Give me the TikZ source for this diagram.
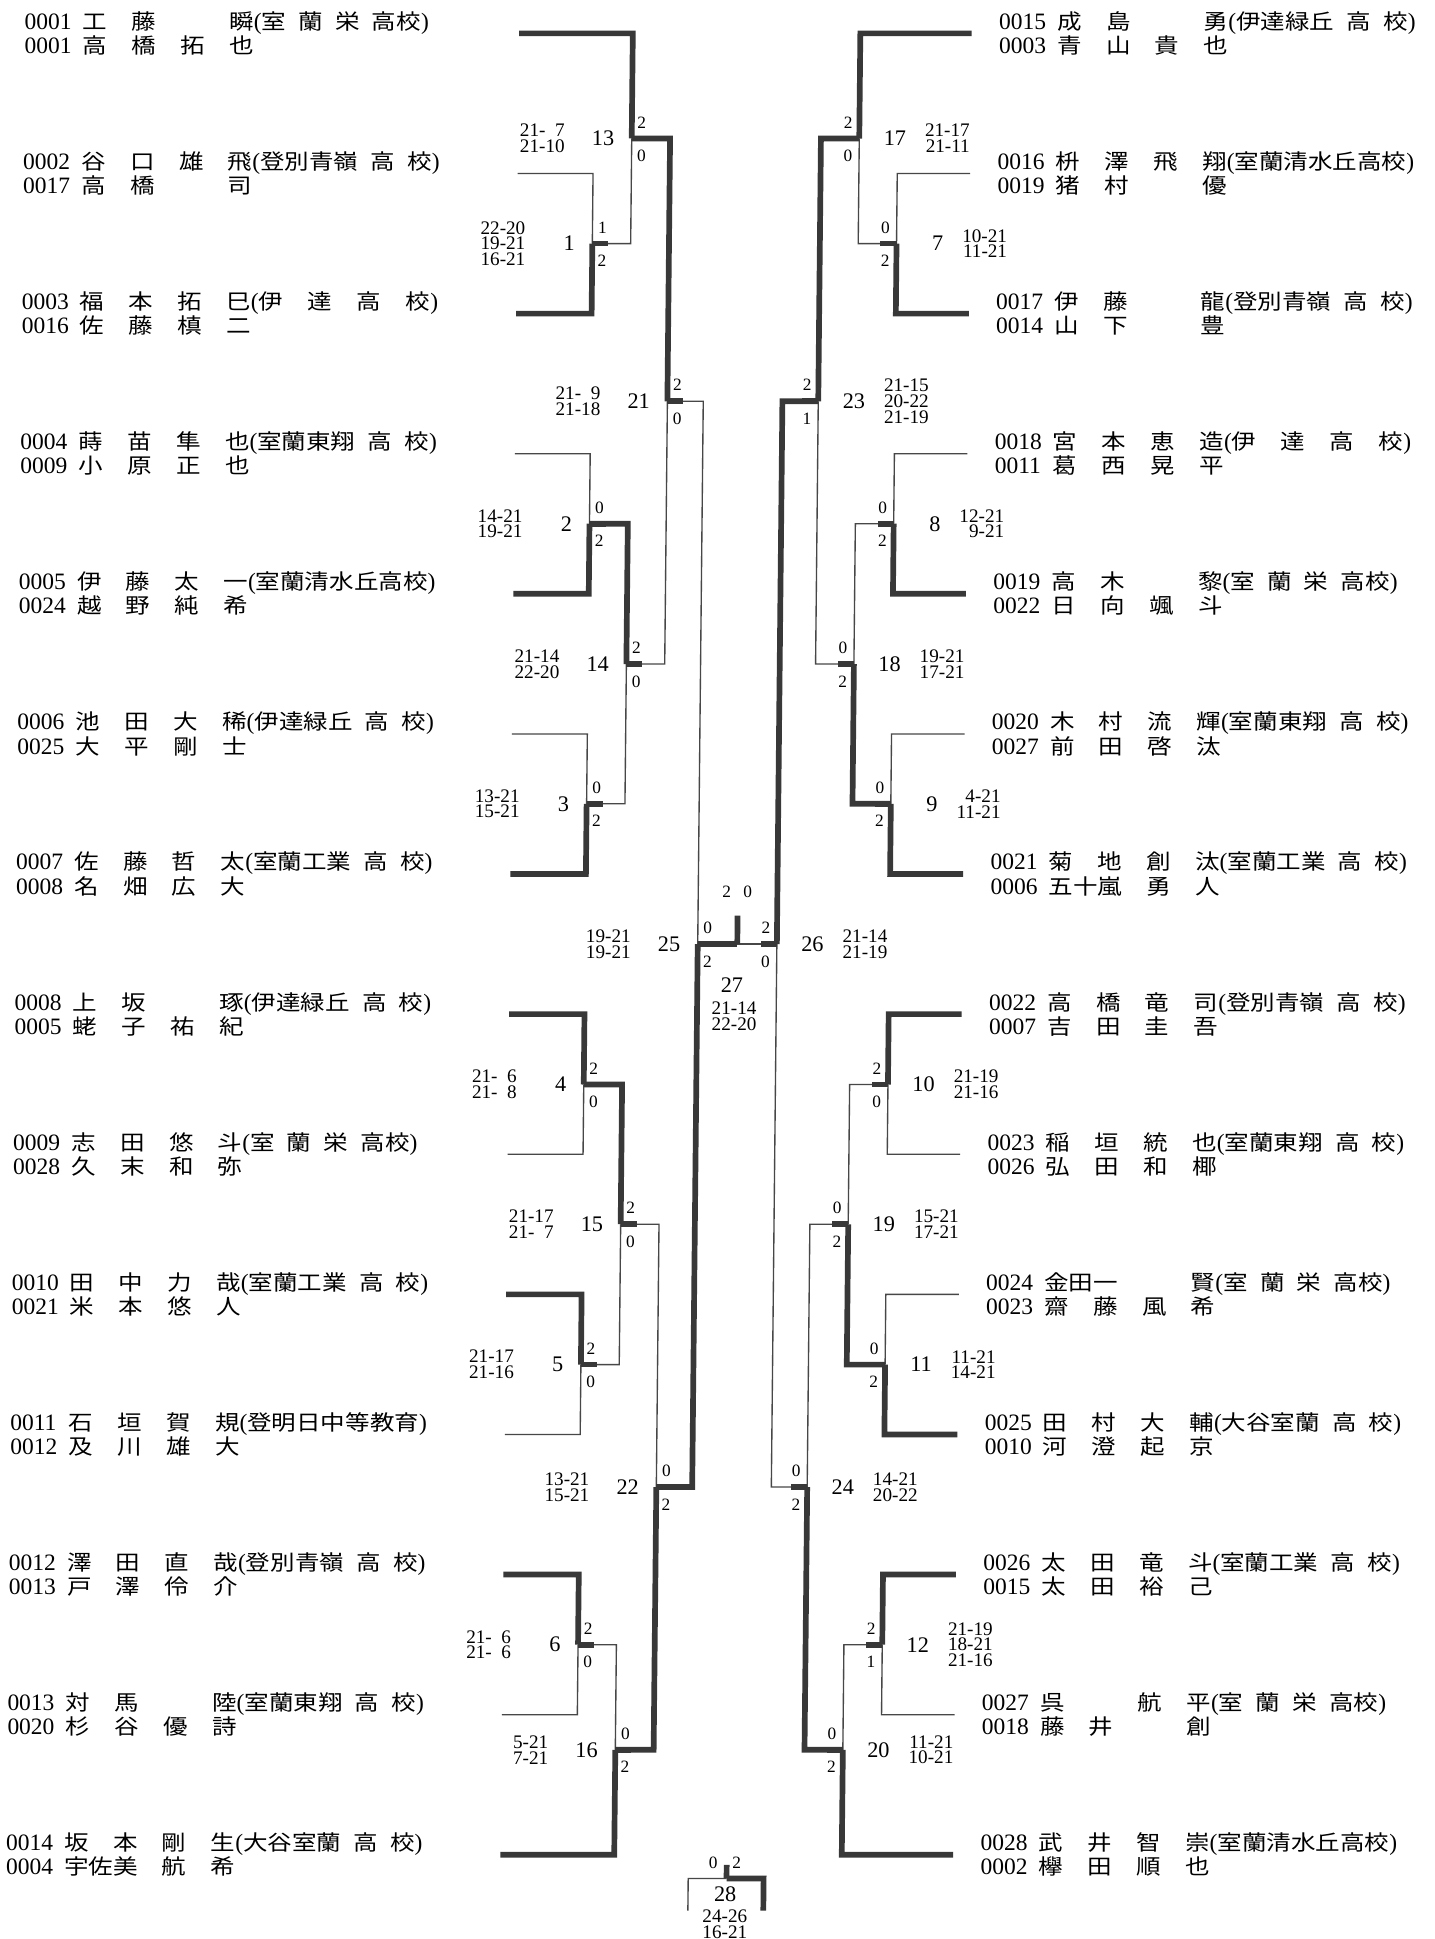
\documentclass[tikz,border=0pt]{standalone}
\usepackage{fontspec}
\setmainfont{Liberation Serif}
\newfontfamily\jpfont[Scale=0.9,FakeStretch=1.16]{Noto Sans CJK JP}
\tikzset{
  entry/.style={anchor=west, align=left, inner sep=0pt, font=\fontsize{19}{19.5}\selectfont},
  wonline/.style={line width=4.6pt, draw=black!78, line cap=square},
  lostline/.style={line width=1.1pt, draw=black!72},
  count/.style={inner sep=0pt, font=\fontsize{14}{14}\selectfont},
  mnum/.style={inner sep=0pt, font=\fontsize{18}{18}\selectfont},
  score/.style={inner sep=0pt, align=right, font=\fontsize{15.5}{12.8}\selectfont}
}
\newcommand{\fsp}{\hphantom{0}}
\newcommand{\hg}{\hspace{9.9pt}}
\newcommand{\fg}{\hspace{19.8pt}}
% number, four name cells
\newcommand{\pl}[5]{\makebox[47pt][l]{#1}{\jpfont\makebox[39.5pt][l]{#2}\makebox[39.5pt][l]{#3}\makebox[39.5pt][l]{#4}#5}}
\newcommand{\sch}[1]{({\jpfont #1})}
\newcommand{\schHK}[1]{\sch{#1\hg 高\hg 校}}
\newcommand{\schSakae}{\sch{室\hg 蘭\hg 栄\hg 高校}}
\newcommand{\schDate}{\sch{伊\fg 達\fg 高\fg 校}}

\begin{document}
\begin{tikzpicture}[x=1pt,y=-1pt]
  \fill[white] (0,0) rectangle (1160,1568);
  \begin{scope}[xslant=0.0102]
  % left players
  \foreach \i/\up/\dn in {
    1/{\pl{0001}{工}{藤}{}{瞬}\schSakae}/{\pl{0001}{高}{橋}{拓}{也}},
    2/{\pl{0002}{谷}{口}{雄}{飛}\schHK{登別青嶺}}/{\pl{0017}{高}{橋}{}{司}},
    3/{\pl{0003}{福}{本}{拓}{巳}\schDate}/{\pl{0016}{佐}{藤}{槙}{二}},
    4/{\pl{0004}{蒔}{苗}{隼}{也}\schHK{室蘭東翔}}/{\pl{0009}{小}{原}{正}{也}},
    5/{\pl{0005}{伊}{藤}{太}{一}\sch{室蘭清水丘高校}}/{\pl{0024}{越}{野}{純}{希}},
    6/{\pl{0006}{池}{田}{大}{稀}\schHK{伊達緑丘}}/{\pl{0025}{大}{平}{剛}{士}},
    7/{\pl{0007}{佐}{藤}{哲}{太}\schHK{室蘭工業}}/{\pl{0008}{名}{畑}{広}{大}},
    8/{\pl{0008}{上}{坂}{}{琢}\schHK{伊達緑丘}}/{\pl{0005}{蛯}{子}{祐}{紀}},
    9/{\pl{0009}{志}{田}{悠}{斗}\schSakae}/{\pl{0028}{久}{末}{和}{弥}},
    10/{\pl{0010}{田}{中}{力}{哉}\schHK{室蘭工業}}/{\pl{0021}{米}{本}{悠}{人}},
    11/{\pl{0011}{石}{垣}{賀}{規}\sch{登明日中等教育}}/{\pl{0012}{及}{川}{雄}{大}},
    12/{\pl{0012}{澤}{田}{直}{哉}\schHK{登別青嶺}}/{\pl{0013}{戸}{澤}{伶}{介}},
    13/{\pl{0013}{対}{馬}{}{陸}\schHK{室蘭東翔}}/{\pl{0020}{杉}{谷}{優}{詩}},
    14/{\pl{0014}{坂}{本}{剛}{生}\schHK{大谷室蘭}}/{\pl{0004}{宇佐美}{}{航}{希}}%
  } {
    \node[entry] (l\i) at (20,{27+113.3*(\i-1)}) {\up\\\dn};
    \coordinate (la\i) at (420,{27+113.3*(\i-1)});
  }
  % right players
  \foreach \i/\up/\dn in {
    1/{\pl{0015}{成}{島}{}{勇}\schHK{伊達緑丘}}/{\pl{0003}{青}{山}{貴}{也}},
    2/{\pl{0016}{枡}{澤}{飛}{翔}\sch{室蘭清水丘高校}}/{\pl{0019}{猪}{村}{}{優}},
    3/{\pl{0017}{伊}{藤}{}{龍}\schHK{登別青嶺}}/{\pl{0014}{山}{下}{}{豊}},
    4/{\pl{0018}{宮}{本}{恵}{造}\schDate}/{\pl{0011}{葛}{西}{晃}{平}},
    5/{\pl{0019}{高}{木}{}{黎}\schSakae}/{\pl{0022}{日}{向}{颯}{斗}},
    6/{\pl{0020}{木}{村}{流}{輝}\schHK{室蘭東翔}}/{\pl{0027}{前}{田}{啓}{汰}},
    7/{\pl{0021}{菊}{地}{創}{汰}\schHK{室蘭工業}}/{\pl{0006}{五十嵐}{}{勇}{人}},
    8/{\pl{0022}{高}{橋}{竜}{司}\schHK{登別青嶺}}/{\pl{0007}{吉}{田}{圭}{吾}},
    9/{\pl{0023}{稲}{垣}{統}{也}\schHK{室蘭東翔}}/{\pl{0026}{弘}{田}{和}{椰}},
    10/{\pl{0024}{金田一}{}{}{賢}\schSakae}/{\pl{0023}{齋}{藤}{風}{希}},
    11/{\pl{0025}{田}{村}{大}{輔}\schHK{大谷室蘭}}/{\pl{0010}{河}{澄}{起}{京}},
    12/{\pl{0026}{太}{田}{竜}{斗}\schHK{室蘭工業}}/{\pl{0015}{太}{田}{裕}{己}},
    13/{\pl{0027}{呉}{}{航}{平}\schSakae}/{\pl{0018}{藤}{井}{}{創}},
    14/{\pl{0028}{武}{井}{智}{崇}\sch{室蘭清水丘高校}}/{\pl{0002}{欅}{田}{順}{也}}%
  } {
    \node[entry] (r\i) at (808,{27+113.3*(\i-1)}) {\up\\\dn};
    \coordinate (ra\i) at (786,{27+113.3*(\i-1)});
  }
  % left matches: number/x/y/games top/games bottom/scores
  \foreach \m/\x/\y/\ga/\gb/\scr in {
    1/481/197/1/2/{22-20\\19-21\\16-21},
    2/481/423.5/0/2/{14-21\\19-21},
    3/481/650/0/2/{13-21\\15-21},
    4/481/877/2/0/{21-\fsp 6\\21-\fsp 8},
    5/481/1103.5/2/0/{21-17\\21-16},
    6/481/1330/2/0/{21-\fsp 6\\21-\fsp 6},
    13/512/112/2/0/{21-\fsp 7\\21-10},
    14/512/537/2/0/{21-14\\22-20},
    15/512/990/2/0/{21-17\\21-\fsp 7},
    16/512/1415/0/2/{5-21\\7-21},
    21/543/324.5/2/0/{21-\fsp 9\\21-18},
    22/543/1202.5/0/2/{13-21\\15-21},
    25/572/763.5/0/2/{19-21\\19-21}%
  } {
    \coordinate (m\m) at (\x,\y);
    \node[count] (ct\m) at (\x+8,\y-13) {\ga};
    \node[count] (cb\m) at (\x+8,\y+14) {\gb};
    \node[mnum, anchor=east] (n\m) at (\x-14,\y) {\m};
    \node[score, anchor=east] (s\m) at (\x-54,\y) {\scr};
  }
  % right matches
  \foreach \m/\x/\y/\ga/\gb/\scr in {
    7/727/197/0/2/{10-21\\11-21},
    8/727/423.5/0/2/{12-21\\9-21},
    9/727/650/0/2/{4-21\\11-21},
    10/727/877/2/0/{21-19\\21-16},
    11/727/1103.5/0/2/{11-21\\14-21},
    12/727/1330/2/1/{21-19\\18-21\\21-16},
    17/696/112/2/0/{21-17\\21-11},
    18/696/537/0/2/{19-21\\17-21},
    19/696/990/0/2/{15-21\\17-21},
    20/696/1415/0/2/{11-21\\10-21},
    23/665/324.5/2/1/{21-15\\20-22\\21-19},
    24/665/1202.5/0/2/{14-21\\20-22},
    26/636/763.5/2/0/{21-14\\21-19}%
  } {
    \coordinate (m\m) at (\x,\y);
    \node[count] (ct\m) at (\x-9,\y-13) {\ga};
    \node[count] (cb\m) at (\x-9,\y+14) {\gb};
    \node[mnum, anchor=east] (n\m) at (\x+38,\y) {\m};
    \node[score, anchor=west] (s\m) at (\x+53,\y) {\scr};
  }
  % final and match 28
  \coordinate (fin) at (604,763.5);
  \node[count] (cf1) at (595,721) {2};
  \node[count] (cf2) at (612,721) {0};
  \node[mnum] (n27) at (600,797) {27};
  \node[score, align=center] (s27) at (602,821.5) {21-14\\22-20};
  \coordinate (t28) at (603,1519);
  \coordinate (t28l) at (572,1545);
  \coordinate (t28r) at (633,1545);
  \node[count] (c28a) at (592,1506) {0};
  \node[count] (c28b) at (611,1506) {2};
  \node[mnum] (n28) at (602,1532) {28};
  \node[score, align=center] (s28) at (602,1556) {24-26\\16-21};

  \foreach \u/\v in {
    la2/m1, la4/m2, la6/m3, la9/m4, la11/m5, la13/m6,
    m1/m13, m3/m14, m5/m15, m6/m16, m14/m21, m15/m22, m21/m25,
    ra2/m7, ra4/m8, ra6/m9, ra9/m10, ra10/m11, ra13/m12,
    m7/m17, m8/m18, m10/m19, m12/m20, m18/m23, m19/m24, m24/m26, m26/fin%
  }{
    \draw[lostline] (\u) -| (\v);
  }
  \draw[lostline] (t28l) |- (t28);
  \foreach \u/\v in {
    la1/m13, la3/m1, la5/m2, la7/m3, la8/m4, la10/m5, la12/m6, la14/m16,
    m2/m14, m4/m15, m13/m21, m16/m22, m22/m25, m25/fin,
    ra1/m17, ra3/m7, ra5/m8, ra7/m9, ra8/m10, ra11/m11, ra12/m12, ra14/m20,
    m9/m18, m11/m19, m17/m23, m20/m24, m23/m26%
  }{
    \draw[wonline] (\u) -| (\v);
  }
  \foreach \m in {1,...,6,13,14,15,16,21,22,25}
    \draw[wonline] (m\m) -- ++(13,0);
  \foreach \m in {7,...,12,17,18,19,20,23,24,26}
    \draw[wonline] (m\m) -- ++(-13,0);
  \draw[wonline] (fin) -- ++(0,-23);
  \draw[wonline] (t28r) |- (t28);
  \draw[wonline] (t28) -- ++(0,-11);
  \end{scope}
\end{tikzpicture}
\end{document}
